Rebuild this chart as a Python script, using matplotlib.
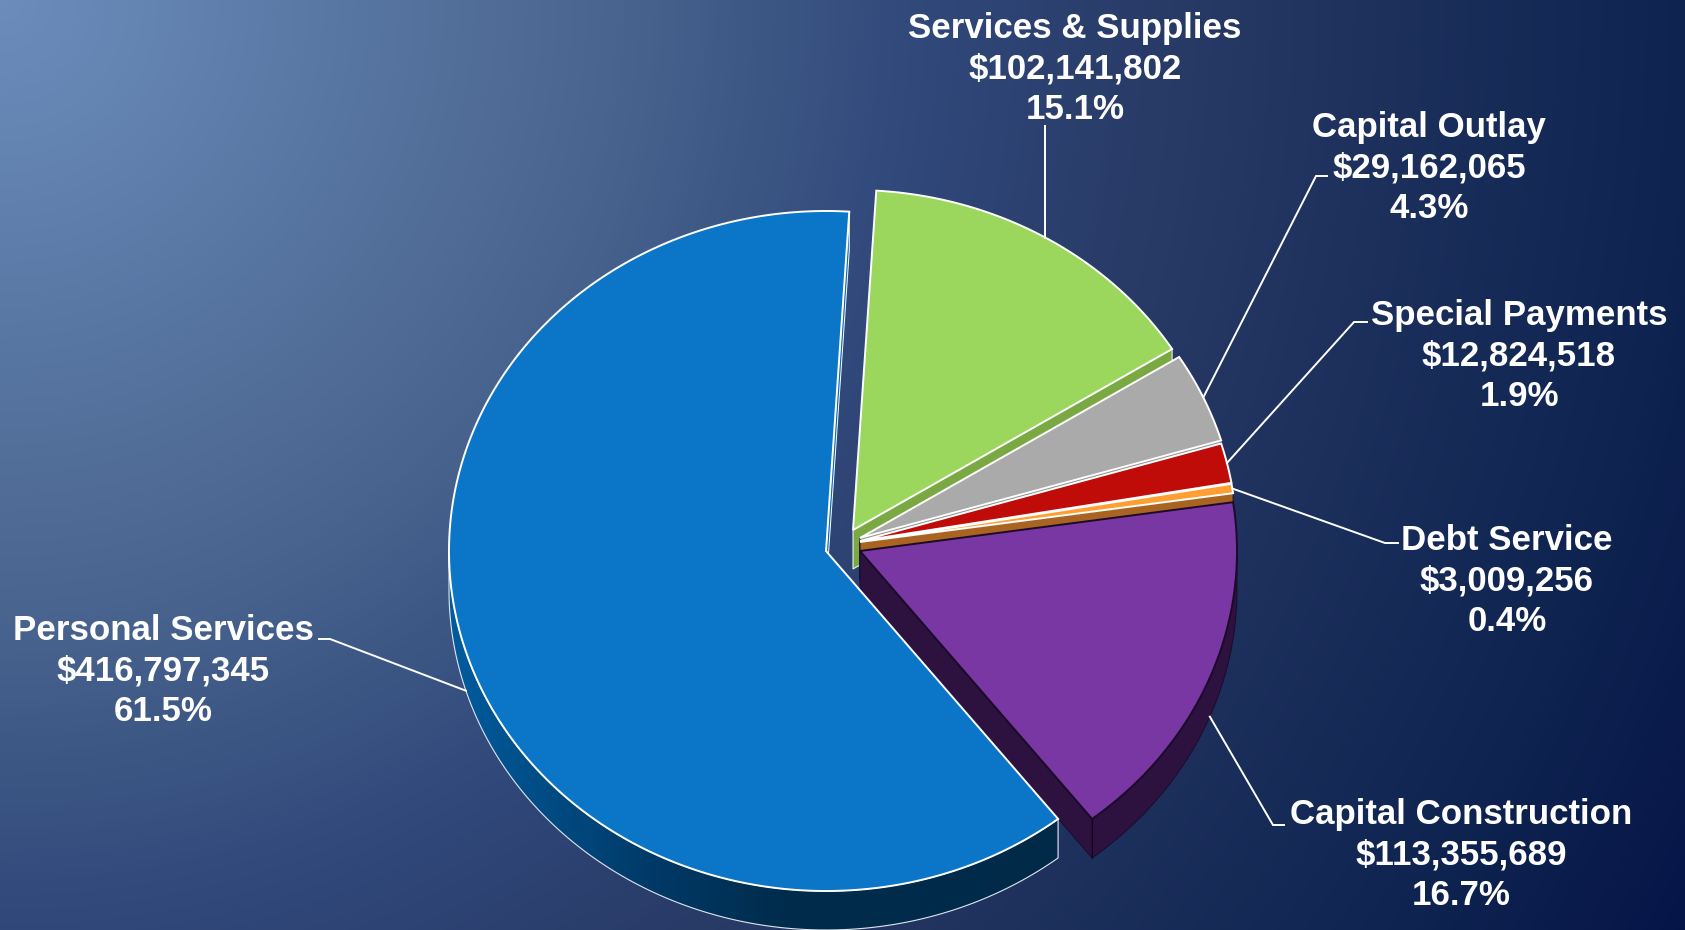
import numpy as np
import matplotlib
matplotlib.use("Agg")
import matplotlib.pyplot as plt
from matplotlib.colors import LinearSegmentedColormap
from matplotlib.patches import Polygon

categories = ["Personal Services", "Services & Supplies", "Capital Outlay",
              "Special Payments", "Debt Service", "Capital Construction"]
amounts = [416797345, 102141802, 29162065, 12824518, 3009256, 113355689]

top_colors = ["#0b76c8", "#9bd75c", "#aaaaaa", "#c00c08", "#ff9f33", "#7837a3"]
wall_colors = ["#0a6cb8", "#7aa842", "#8c8c8c", "#8a0806", "#a86420", "#2d1240"]
edge_colors = ["white", "white", "white", "white", "white", "#1c0a2a"]

W, H = 1685, 930
RX, RY = 377, 340
DEPTH = 39
START = 142  # clockwise from north, where the first slice begins
CENTER = (826, 551)

# how far each slice is pulled away from the centre
offsets = [(0, 0), (27, -21), (34, -13), (34, -10), (34, -9), (34, 0)]

# label centre and baseline of its last line, then the elbow of the leader
label_pos = [(163, 721), (1075, 119), (1429, 218), (1519, 406), (1507, 631), (1461, 905)]
elbows = [[(319, 639), (330, 639)], [], [(1327, 176), (1316, 176)],
          [(1367, 322), (1354, 322)], [(1398, 543), (1385, 543)],
          [(1284, 825), (1273, 825)]]

bg_stops = [(0.0, "#6c8dbc"), (0.31, "#4a6690"), (0.48, "#30487a"),
            (0.61, "#283a66"), (0.88, "#0e2350"), (1.0, "#061548")]

plt.rcParams["font.family"] = ["Liberation Sans", "DejaVu Sans"]

total = sum(amounts)
sweeps = [a / total * 360 for a in amounts]
starts = START + np.concatenate([[0], np.cumsum(sweeps)[:-1]])


def rim(cx, cy, a0, a1, drop=0):
    t = np.radians(np.linspace(a0, a1, max(int(abs(a1 - a0) * 4), 2)))
    return np.column_stack([cx + RX * np.sin(t), cy - RY * np.cos(t) + drop])


fig = plt.figure(figsize=(W / 100, H / 100), dpi=100)
ax = fig.add_axes([0, 0, 1, 1])
ax.set_xlim(0, W)
ax.set_ylim(H, 0)
ax.axis("off")

# background fades out from the top left corner
yy, xx = np.mgrid[0:H, 0:W]
dist = np.hypot(xx, yy) / np.hypot(W, H)
ax.imshow(dist, extent=[0, W, H, 0], aspect="auto", zorder=0, vmin=0, vmax=1,
          cmap=LinearSegmentedColormap.from_list("bg", bg_stops))

# slices go back to front so the nearer ones cover the walls behind them
draw_order = [1, 2, 3, 4, 5, 0]
z = 1
for i in draw_order:
    cx = CENTER[0] + offsets[i][0]
    cy = CENTER[1] + offsets[i][1]
    a0 = starts[i]
    a1 = a0 + sweeps[i]
    top = np.vstack([[cx, cy], rim(cx, cy, a0, a1)])

    # cut face along the trailing edge
    tip = rim(cx, cy, a1, a1)[0]
    face = [(cx, cy), tuple(tip), (tip[0], tip[1] + DEPTH), (cx, cy + DEPTH)]
    edge = "white" if i in (0, 1) else "#1c0a2a"
    ax.add_patch(Polygon(face, closed=True, fc=wall_colors[i], ec=edge, lw=0.7, zorder=z))
    z += 1

    if i == 5:
        # outer wall, only the part past the rightmost point of the rim shows
        outer = np.vstack([rim(cx, cy, 450, a1), rim(cx, cy, a1, 450, DEPTH)])
        ax.add_patch(Polygon(outer, closed=True, fc=wall_colors[i], ec=edge, lw=0.7, zorder=z))
        z += 1
        ax.plot([tip[0], tip[0]], [tip[1], tip[1] + DEPTH], color="#120618", lw=0.7, zorder=z)
    if i == 0:
        # outer wall of the big slice, dark towards the front
        outer = np.vstack([rim(cx, cy, a0, 270), rim(cx, cy, 270, a0, DEPTH)])
        img = ax.imshow(np.linspace(0, 1, 256)[None, :], extent=[449, 1057, H, 0], aspect="auto",
                        cmap=LinearSegmentedColormap.from_list(
                            "wall", [(0, "#005c9e"), (0.33, "#003a68"), (0.55, "#002c4c"), (1, "#002a48")]),
                        zorder=z)
        ax.set_xlim(0, W)
        ax.set_ylim(H, 0)
        patch = Polygon(outer, closed=True, fc="none", ec="#dfe6ee", lw=0.8, zorder=z + 1)
        ax.add_patch(patch)
        img.set_clip_path(patch)
        z += 2

    ax.add_patch(Polygon(top, closed=True, fc=top_colors[i], ec=edge_colors[i], lw=1.4,
                         joinstyle="miter", zorder=z))
    z += 1

# leaders run from the label elbow to the middle of the slice rim
for i, name in enumerate(categories):
    cx = CENTER[0] + offsets[i][0]
    cy = CENTER[1] + offsets[i][1]
    mid = starts[i] + sweeps[i] / 2
    drop = DEPTH if i in (0, 5) else 0
    tip = rim(cx, cy, mid, mid, drop)[0]
    pts = np.array(elbows[i] + [tuple(tip)]) if elbows[i] else np.array([(tip[0], 126), tuple(tip)])
    ax.plot(pts[:, 0], pts[:, 1], color="white", lw=1.4, zorder=z, solid_joinstyle="miter")

    label = f"{name}\n${amounts[i]:,}\n{amounts[i] / total:.1%}"
    ax.text(label_pos[i][0], label_pos[i][1], label, color="white", fontsize=25.1, fontweight="bold",
            ha="center", va="baseline", multialignment="center", linespacing=1.29, zorder=z + 1)

fig.savefig("out.png", dpi=100)
